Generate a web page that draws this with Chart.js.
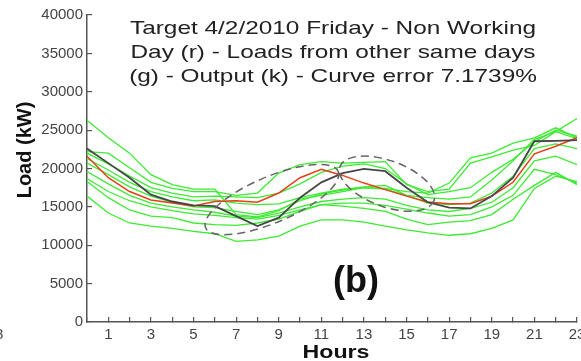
<!DOCTYPE html>
<html>
<head>
<meta charset="utf-8">
<script src="https://cdn.jsdelivr.net/npm/chart.js@4.4.1/dist/chart.umd.min.js"></script>
<style>
  html, body { margin: 0; padding: 0; background: #fff; }
  #wrap { width: 581px; height: 361px; }
</style>
</head>
<body>
<div id="wrap"><canvas id="carga"></canvas></div>
<script>
// hours of the day and y tick values
const hours = [0,1,2,3,4,5,6,7,8,9,10,11,12,13,14,15,16,17,18,19,20,21,22,23];
const yTicks = [0,5000,10000,15000,20000,25000,30000,35000,40000];

// (k) output of the model
const output = [22600,20700,18800,16600,15700,15200,15100,13800,12500,13600,16200,18200,19400,19950,19650,17500,15600,14900,14800,16400,18800,23550,23600,23700];
// (r) target day
const target = [21600,18800,17000,15900,15500,15100,15700,15800,15600,16800,18800,19900,19100,18100,17250,16400,15650,15400,15400,16400,18200,21900,22900,24000];
// (g) loads from other same days
const day1 = [26300,24000,22000,19200,17900,17300,17300,14000,13700,14500,16000,16500,17000,17500,17400,17000,16800,18100,21400,22000,23300,24000,25300,24000];
const day2 = [22200,22000,20100,18200,17400,17000,17000,16500,16800,19400,20500,20900,20700,20800,20900,17900,17000,17300,20700,21500,22400,23000,24800,26500];
const day3 = [22000,20600,19000,17500,16800,16300,16400,16300,16200,16800,18000,19500,20300,20600,20000,18000,16600,17000,17500,19500,21200,23500,25000,24200];
const day4 = [21300,19800,18200,17000,16300,15800,15900,15500,15300,15400,16200,16800,17300,17500,17300,16500,16200,16000,16300,18500,21000,23800,24800,23900];
const day5 = [20700,19200,17600,16400,15600,15000,14900,14400,14000,14600,15800,16700,17200,17600,17800,16500,15500,15300,15500,16800,19000,22600,23200,22600];
const day6 = [19600,18000,16500,15500,15000,14600,14300,13800,13600,14200,15000,15700,16000,16200,16000,15200,14600,14400,14800,15600,17500,21000,21600,20500];
const day7 = [18700,17000,15800,15000,14500,14100,13900,13600,13400,13900,14600,15300,15500,15500,15200,14700,14200,13800,14000,15000,16500,19900,19200,18100];
const day8 = [18300,16200,14600,13800,13600,12900,12700,12600,12900,13400,14400,15300,15100,14800,14400,13400,12700,13000,13200,14000,16000,17800,19500,17900];
const day9 = [16400,14200,12900,12500,12200,11800,11500,10500,10700,11200,12500,13300,13300,13000,12500,12000,11600,11300,11500,12200,13300,17400,19000,18300];
const otherDays = [day1, day2, day3, day4, day5, day6, day7, day8, day9];

const titleLines = [
  'Target 4/2/2010 Friday - Non Working',
  'Day (r) - Loads from other same days',
  '(g) - Output (k) - Curve error 7.1739%'
];

// dashed ellipses marking the zones where the output misses (centre in hour / kW)
const zonas = [
  { hour: 8.68, load: 15950, rx: 72, ry: 23, rot: -23 },
  { hour: 14.08, load: 18030, rx: 50, ry: 23, rot: 20 }
];

const pts = vals => hours.map((h, i) => ({ x: h, y: vals[i] }));
const FONT = '"Liberation Sans", Arial, sans-serif';

const datasets = [
  { data: pts(output), borderColor: 'rgb(70,70,70)', borderWidth: 1.8 },
  { data: pts(target), borderColor: 'rgb(232,62,25)', borderWidth: 1.5 }
];
otherDays.forEach(d => {
  datasets.push({ data: pts(d), borderColor: 'rgb(60,235,50)', borderWidth: 1.3 });
});

const textos = {
  id: 'textos',
  afterDatasetsDraw(chart) {
    const ctx = chart.ctx;
    const x = chart.scales.x, y = chart.scales.y;

    ctx.save();
    ctx.strokeStyle = 'rgb(100,100,100)';
    ctx.lineWidth = 1.5;
    ctx.setLineDash([8, 5]);
    zonas.forEach(z => {
      ctx.beginPath();
      ctx.ellipse(x.getPixelForValue(z.hour), y.getPixelForValue(z.load), z.rx, z.ry, z.rot * Math.PI / 180, 0, Math.PI * 2);
      ctx.stroke();
    });
    ctx.restore();

    // title, stretched like the original picture
    ctx.save();
    ctx.fillStyle = '#222';
    ctx.font = '19px ' + FONT;
    ctx.textAlign = 'center';
    ctx.textBaseline = 'alphabetic';
    const sx = 406 / ctx.measureText(titleLines[0]).width;
    titleLines.forEach((t, i) => {
      ctx.save();
      ctx.translate(333, 34 + i * 24);
      ctx.scale(sx, 1);
      ctx.fillText(t, 0, 0);
      ctx.restore();
    });
    ctx.restore();

    ctx.save();
    ctx.fillStyle = '#111';
    ctx.textAlign = 'center';
    ctx.font = 'bold 36px ' + FONT;
    ctx.fillText('(b)', 356, 292);

    ctx.font = 'bold 19px ' + FONT;
    ctx.save();
    ctx.translate(336, 358);
    ctx.scale(67 / ctx.measureText('Hours').width, 1);
    ctx.fillText('Hours', 0, 0);
    ctx.restore();

    ctx.save();
    ctx.translate(25, 150);
    ctx.rotate(-Math.PI / 2);
    ctx.textBaseline = 'middle';
    ctx.font = 'bold 20px ' + FONT;
    ctx.fillText('Load (kW)', 0, 0);
    ctx.restore();

    ctx.fillStyle = '#444';
    ctx.font = '15px ' + FONT;
    ctx.textAlign = 'left';
    ctx.fillText('8', -5, 339);
    ctx.restore();
  }
};

new Chart(document.getElementById('carga'), {
  type: 'line',
  data: { datasets: datasets },
  options: {
    responsive: true,
    maintainAspectRatio: false,
    animation: false,
    devicePixelRatio: 1,
    layout: { padding: { top: 15, right: 4, bottom: 0, left: 0 } },
    elements: { point: { radius: 0 }, line: { tension: 0 } },
    plugins: { legend: { display: false }, tooltip: { enabled: false } },
    scales: {
      x: {
        type: 'linear',
        min: 0,
        max: 23,
        afterFit(scale) { scale.height = 39; scale.paddingLeft = 0; scale.paddingRight = 0; },
        afterBuildTicks(scale) { scale.ticks = hours.map(h => ({ value: h })); },
        ticks: {
          autoSkip: false,
          maxRotation: 0,
          padding: 9,
          color: '#444',
          font: { family: FONT, size: 15 },
          callback: v => (v % 2 ? String(v) : '')
        },
        grid: { drawOnChartArea: false, tickLength: -5, color: '#555', lineWidth: 1.2 },
        border: { color: '#555', width: 1.5 }
      },
      y: {
        min: 0,
        max: 40000,
        afterFit(scale) { scale.width = 87; scale.paddingTop = 0; scale.paddingBottom = 0; },
        afterBuildTicks(scale) { scale.ticks = yTicks.map(v => ({ value: v })); },
        ticks: {
          padding: 9,
          color: '#444',
          font: { family: FONT, size: 15 },
          callback: v => String(v)
        },
        grid: { drawOnChartArea: false, tickLength: -5, color: '#555', lineWidth: 1.2 },
        border: { color: '#555', width: 1.5 }
      }
    }
  },
  plugins: [textos]
});
</script>
</body>
</html>
